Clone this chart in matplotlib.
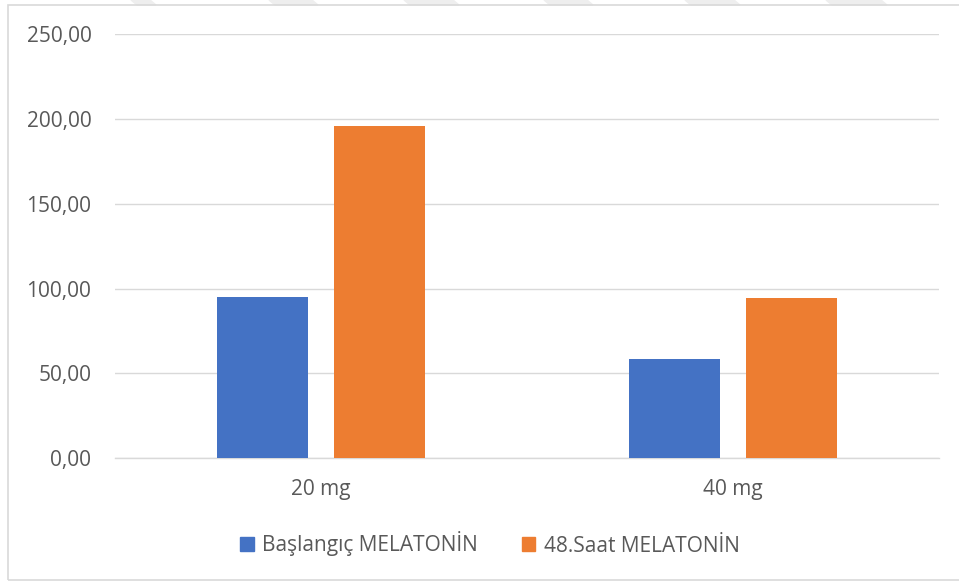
import matplotlib.pyplot as plt
import numpy as np
from matplotlib.patches import Patch, Rectangle, Polygon
from matplotlib.ticker import FuncFormatter

plt.rcParams['font.family'] = ['Open Sans', 'DejaVu Sans']

doses = ["20 mg", "40 mg"]
baslangic = [95.2, 58.2]
saat48 = [195.9, 94.6]
series_names = ["Başlangıç MELATONİN", "48.Saat MELATONİN"]
yticks = [0, 50, 100, 150, 200, 250]

blue = "#4472C4"
orange = "#ED7D31"
text_col = "#595959"
grid_col = "#D9D9D9"

fig = plt.figure(figsize=(9.59, 5.81), dpi=100)
ax = fig.add_axes([115 / 959, 1 - 458 / 581, (939 - 115) / 959, (458 - 34.3) / 581])

x = np.arange(len(doses))
w = 0.223
off = 0.142
ax.bar(x - off, baslangic, w, color=blue, zorder=3)
ax.bar(x + off, saat48, w, color=orange, zorder=3)

ax.set_xlim(-0.5, 1.5)
ax.set_ylim(0, 250)
ax.set_yticks(yticks)
ax.yaxis.set_major_formatter(FuncFormatter(lambda v, p: f"{v:.2f}".replace(".", ",")))
ax.set_xticks(x)
ax.set_xticklabels(doses)
ax.tick_params(axis="both", length=0, labelsize=15, labelcolor=text_col)
ax.tick_params(axis="y", pad=17)
ax.tick_params(axis="x", pad=15)

ax.grid(axis="y", color=grid_col, linewidth=1.0, zorder=0)
for s in ["top", "right", "left"]:
    ax.spines[s].set_visible(False)
ax.spines["bottom"].set_color(grid_col)
ax.spines["bottom"].set_linewidth(1.0)

handles = [Patch(color=blue), Patch(color=orange)]
fig.legend(handles, series_names, loc="center", bbox_to_anchor=(490 / 959, 1 - 544 / 581),
           ncol=2, frameon=False, fontsize=15, labelcolor=text_col,
           handlelength=0.65, handleheight=0.65, handletextpad=0.4, columnspacing=2.1)

# outer chart frame
fig.add_artist(Rectangle((8 / 959, 1 / 581), 1.0, 1 - 6 / 581, transform=fig.transFigure,
                         fill=False, edgecolor=grid_col, linewidth=1.2))

# faint header marks above the frame
for x0, x1 in [(131, 150), (269, 312), (404, 453), (544, 587), (685, 734), (826, 881)]:
    pts = [(x0 / 959, 1.0), (x1 / 959, 1.0), ((x1 + 6) / 959, 1 - 5 / 581), ((x0 + 6) / 959, 1 - 5 / 581)]
    fig.add_artist(Polygon(pts, closed=True, transform=fig.transFigure, color="#EEEEEE", zorder=0))

fig.savefig("out.png", dpi=100)
